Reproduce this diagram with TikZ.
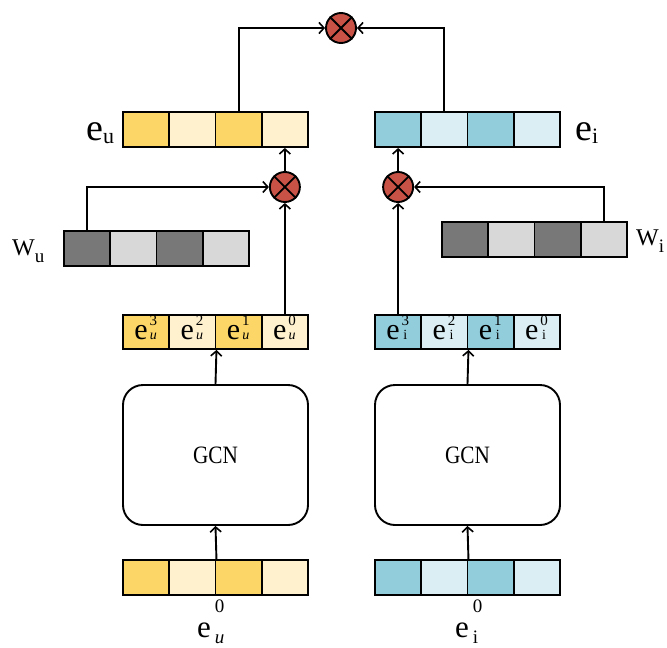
\documentclass[tikz,border=0pt]{standalone}
\usepackage{fontspec}
\setmainfont{Liberation Serif}
\usetikzlibrary{arrows.meta}

\definecolor{goldD}{RGB}{252,214,102}
\definecolor{goldL}{RGB}{255,241,206}
\definecolor{blueD}{RGB}{146,205,220}
\definecolor{blueL}{RGB}{218,238,243}
\definecolor{grayD}{RGB}{120,120,120}
\definecolor{grayL}{RGB}{216,216,216}
\definecolor{mulred}{RGB}{200,82,70}

\newcommand\fs[1]{\fontsize{#1}{#1}\selectfont}
% e with a stacked layer index (top) and owner (bottom)
\newcommand\ecell[2]{{\fs{30}e}\hspace{1pt}\rlap{\makebox[9pt]{\raisebox{14pt}{\fs{15}#1}}}\makebox[9pt]{\fs{14}#2}}

\tikzset{
  cell/.style={draw, line width=1.9pt, minimum width=46.25pt, minimum height=35pt,
               inner sep=0pt, text height=24pt, text depth=10pt},
  thin cell/.style={cell, minimum height=34pt},
  mul/.style={circle, draw, line width=1.9pt, fill=mulred, minimum size=30pt, inner sep=0pt},
  gcn/.style={draw, line width=1.9pt, rounded corners=20pt, minimum width=185pt,
              minimum height=140pt, font=\fs{25}},
  arr/.style={line width=1.9pt, -{Straight Barb[length=5pt,width=11pt,line width=1.6pt]}},
  lbl/.style={inner sep=0pt, anchor=base west}
}

\begin{document}
\begin{tikzpicture}[x=1pt, y=-1pt]
\useasboundingbox (0,0) rectangle (667,648);

% final user / item embeddings
\foreach \i/\c in {1/goldD,2/goldL,3/goldD,4/goldL}
  \node[cell, fill=\c] (eu-\i) at ({123+46.25*(\i-0.5)},129.5) {};
\foreach \i/\c in {1/blueD,2/blueL,3/blueD,4/blueL}
  \node[cell, fill=\c] (ei-\i) at ({375+46.25*(\i-0.5)},129.5) {};

% weight vectors
\foreach \i/\c in {1/grayD,2/grayL,3/grayD,4/grayL}
  \node[cell, fill=\c] (wu-\i) at ({64+46.25*(\i-0.5)},248.5) {};
\foreach \i/\c in {1/grayD,2/grayL,3/grayD,4/grayL}
  \node[cell, fill=\c] (wi-\i) at ({442+46.25*(\i-0.5)},239.5) {};

% layer-wise embeddings
\foreach \i/\c/\k in {1/goldD/3,2/goldL/2,3/goldD/1,4/goldL/0}
  \node[thin cell, fill=\c] (eku-\i) at ({123+46.25*(\i-0.5)},332) {\ecell{\k}{\itshape u}};
\foreach \i/\c/\k in {1/blueD/3,2/blueL/2,3/blueD/1,4/blueL/0}
  \node[thin cell, fill=\c] (eki-\i) at ({375+46.25*(\i-0.5)},332) {\ecell{\k}{i}};

% input embeddings
\foreach \i/\c in {1/goldD,2/goldL,3/goldD,4/goldL}
  \node[cell, fill=\c] (bu-\i) at ({123+46.25*(\i-0.5)},577.5) {};
\foreach \i/\c in {1/blueD,2/blueL,3/blueD,4/blueL}
  \node[cell, fill=\c] (bi-\i) at ({375+46.25*(\i-0.5)},577.5) {};

% GCN encoders
\node[gcn] (gu) at (215.5,455) {\scalebox{0.85}[1]{GCN}};
\node[gcn] (gi) at (467.5,455) {\scalebox{0.85}[1]{GCN}};

% element-wise products
\node[mul] (top) at (341,28) {};
\node[mul] (mu) at (284.875,187) {};
\node[mul] (mi) at (398.125,187) {};
\foreach \m in {top,mu,mi} {
  \draw[line width=1.9pt] (\m.north west) -- (\m.south east);
  \draw[line width=1.9pt] (\m.north east) -- (\m.south west);
}

% connectors
\draw[arr] (eu-3.north) |- (top.west);
\draw[arr] (ei-2.north) |- (top.east);
\draw[arr] (wu-1.north) |- (mu.west);
\draw[arr] (eku-4.north) -- (mu.south);
\draw[arr] (mu.north) -- (eu-4.south);
\draw[arr] (wi-4.north) |- (mi.east);
\draw[arr] (eki-1.north) -- (mi.south);
\draw[arr] (mi.north) -- (ei-1.south);
\draw[arr] (bu-2.north east) -- (gu.south);
\draw[arr] (gu.north) -- (eku-2.south east);
\draw[arr] (bi-2.north east) -- (gi.south);
\draw[arr] (gi.north) -- (eki-2.south east);

% labels
\node[lbl] (leu) at (86,140) {{\fs{38}e}\raisebox{-3pt}{\fs{22}u}};
\node[lbl] (lei) at (575,140) {{\fs{38}e}\raisebox{-3pt}{\fs{22}i}};
\node[lbl] (lwu) at (12,255) {{\fs{24}W}\raisebox{-7pt}{\fs{19}u}};
\node[lbl] (lwi) at (636,245) {{\fs{24}W}\raisebox{-7pt}{\fs{19}i}};
\node[lbl] (l0u) at (197,637) {{\fs{31}e}\hspace{4pt}\rlap{\raisebox{25pt}{\fs{19}0}}\raisebox{-6pt}{\fs{19}\itshape u}};
\node[lbl] (l0i) at (455,637) {{\fs{31}e}\hspace{4pt}\rlap{\raisebox{25pt}{\fs{19}0}}\raisebox{-6pt}{\fs{19}i}};
\end{tikzpicture}
\end{document}
